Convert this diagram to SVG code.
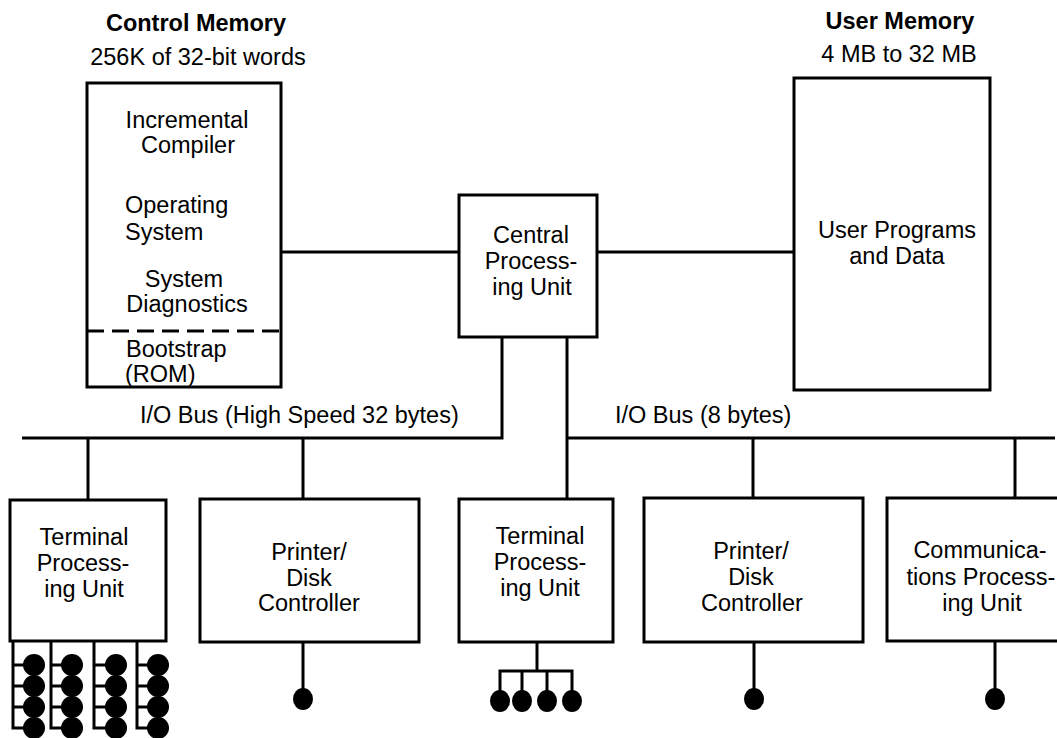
<svg xmlns="http://www.w3.org/2000/svg" width="1057" height="738" viewBox="0 0 1057 738">
<style>
  .box { fill: #fff; stroke: #000; stroke-width: 3; }
  .ln { fill: none; stroke: #000; stroke-width: 3; }
  .dot { fill: #000; }
  text { font-family: "Liberation Sans", Arial, sans-serif; font-size: 23.5px; fill: #000; }
  .c { text-anchor: middle; }
  .b { font-weight: bold; }
</style>
<rect width="1057" height="738" fill="#fff"/>
<g id="connectors">
  <line class="ln" x1="281" y1="252" x2="459" y2="252"/>
  <line class="ln" x1="597" y1="252" x2="794" y2="252"/>
  <polyline class="ln" points="502,337 502,438 22,438"/>
  <line class="ln" x1="567" y1="337" x2="567" y2="499"/>
  <line class="ln" x1="567" y1="438" x2="1055" y2="438"/>
  <line class="ln" x1="88" y1="438" x2="88" y2="500"/>
  <line class="ln" x1="303" y1="438" x2="303" y2="499"/>
  <line class="ln" x1="753" y1="438" x2="753" y2="498"/>
  <line class="ln" x1="1015" y1="438" x2="1015" y2="498"/>
  <text x="140" y="423">I/O Bus (High Speed 32 bytes)</text>
  <text x="615" y="423">I/O Bus (8 bytes)</text>
</g>
<g id="control-memory">
  <text class="c b" x="196" y="31">Control Memory</text>
  <text class="c" x="198" y="65">256K of 32-bit words</text>
  <rect class="box" x="87" y="83" width="194" height="304"/>
  <line class="ln" x1="87" y1="331" x2="281" y2="331" stroke-dasharray="17 8"/>
  <text class="c" x="187" y="128">Incremental</text>
  <text class="c" x="188" y="153">Compiler</text>
  <text x="125" y="213">Operating</text>
  <text x="125" y="240">System</text>
  <text class="c" x="184" y="287">System</text>
  <text class="c" x="187" y="312">Diagnostics</text>
  <text x="126" y="357" font-size="22.5">Bootstrap</text>
  <text x="125" y="382" font-size="22.5">(ROM)</text>
</g>
<g id="cpu">
  <rect class="box" x="459" y="195" width="138" height="142"/>
  <text class="c" x="531" y="243">Central</text>
  <text class="c" x="531" y="269">Process-</text>
  <text class="c" x="532" y="295">ing Unit</text>
</g>
<g id="user-memory">
  <text class="c b" x="900" y="29">User Memory</text>
  <text class="c" x="899" y="62">4 MB to 32 MB</text>
  <rect class="box" x="794" y="78" width="196" height="312"/>
  <text class="c" x="897" y="238">User Programs</text>
  <text class="c" x="897" y="264">and Data</text>
</g>
<g id="terminal-1">
  <rect class="box" x="10" y="500" width="156" height="141"/>
  <text class="c" x="84" y="545">Terminal</text>
  <text class="c" x="83" y="571">Process-</text>
  <text class="c" x="84" y="597">ing Unit</text>
  <polyline class="ln" points="13,641 13,728 34,728"/>
  <polyline class="ln" points="51,641 51,728 72,728"/>
  <polyline class="ln" points="94,641 94,728 116,728"/>
  <polyline class="ln" points="137,641 137,728 158,728"/>
  <path class="ln" d="M13 665H34M13 686H34M13 707H34M51 665H72M51 686H72M51 707H72M94 665H116M94 686H116M94 707H116M137 665H158M137 686H158M137 707H158"/>
  <g class="dot">
    <circle cx="34" cy="665" r="11"/><circle cx="34" cy="686" r="11"/><circle cx="34" cy="707" r="11"/><circle cx="34" cy="728" r="11"/>
    <circle cx="72" cy="665" r="11"/><circle cx="72" cy="686" r="11"/><circle cx="72" cy="707" r="11"/><circle cx="72" cy="728" r="11"/>
    <circle cx="116" cy="665" r="11"/><circle cx="116" cy="686" r="11"/><circle cx="116" cy="707" r="11"/><circle cx="116" cy="728" r="11"/>
    <circle cx="158" cy="665" r="11"/><circle cx="158" cy="686" r="11"/><circle cx="158" cy="707" r="11"/><circle cx="158" cy="728" r="11"/>
  </g>
</g>
<g id="printer-1">
  <rect class="box" x="200" y="499" width="219" height="143"/>
  <text class="c" x="309" y="560">Printer/</text>
  <text class="c" x="309" y="586">Disk</text>
  <text class="c" x="309" y="611">Controller</text>
  <line class="ln" x1="303" y1="642" x2="303" y2="699"/>
  <ellipse class="dot" cx="303" cy="699" rx="10" ry="11"/>
</g>
<g id="terminal-2">
  <rect class="box" x="459" y="499" width="154" height="143"/>
  <text class="c" x="540" y="544">Terminal</text>
  <text class="c" x="540" y="570">Process-</text>
  <text class="c" x="540" y="596">ing Unit</text>
  <line class="ln" x1="537" y1="642" x2="537" y2="671"/>
  <polyline class="ln" points="500,701 500,671 572,671 572,701"/>
  <line class="ln" x1="522" y1="671" x2="522" y2="701"/>
  <line class="ln" x1="547" y1="671" x2="547" y2="701"/>
  <ellipse class="dot" cx="500" cy="701" rx="10" ry="11"/>
  <ellipse class="dot" cx="522" cy="701" rx="10" ry="11"/>
  <ellipse class="dot" cx="547" cy="701" rx="10" ry="11"/>
  <ellipse class="dot" cx="572" cy="701" rx="10" ry="11"/>
</g>
<g id="printer-2">
  <rect class="box" x="644" y="498" width="219" height="144"/>
  <text class="c" x="751" y="559">Printer/</text>
  <text class="c" x="751" y="585">Disk</text>
  <text class="c" x="752" y="611">Controller</text>
  <line class="ln" x1="754" y1="642" x2="754" y2="699"/>
  <ellipse class="dot" cx="754" cy="699" rx="10" ry="11"/>
</g>
<g id="comm-unit">
  <rect class="box" x="887" y="498" width="180" height="143"/>
  <text class="c" x="980" y="558">Communica-</text>
  <text class="c" x="981" y="585">tions Process-</text>
  <text class="c" x="982" y="611">ing Unit</text>
  <line class="ln" x1="995" y1="641" x2="995" y2="699"/>
  <ellipse class="dot" cx="995" cy="699" rx="10" ry="11"/>
</g>
</svg>
